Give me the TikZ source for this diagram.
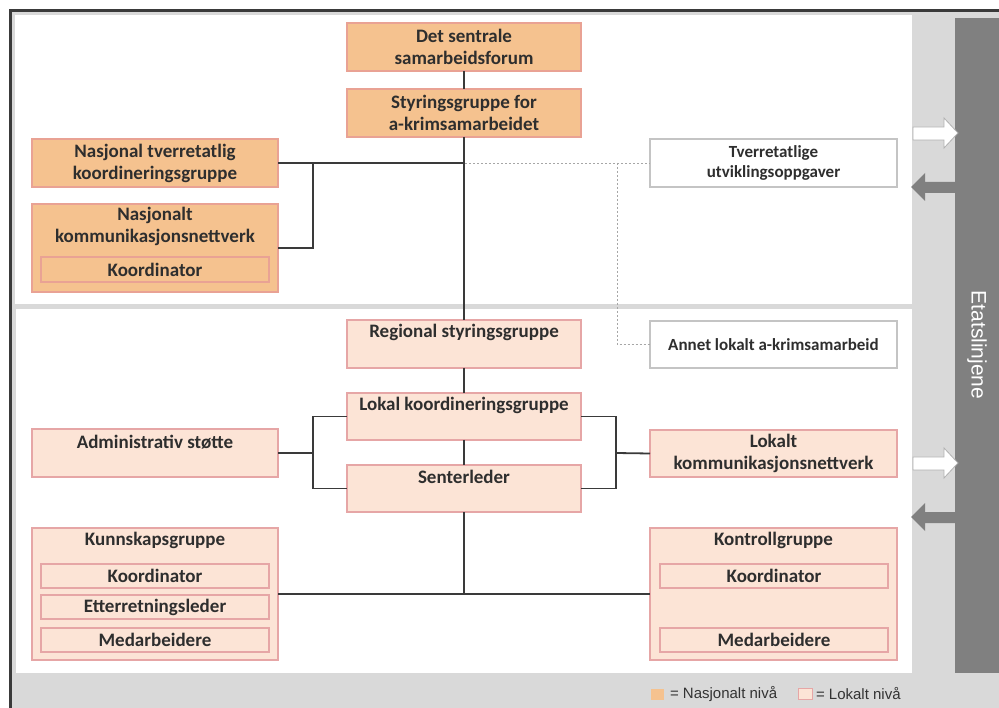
\documentclass[tikz,border=0pt]{standalone}
\usepackage{fontspec}
\setmainfont{Carlito}
\newfontfamily\arialf{Liberation Sans}
\usetikzlibrary{calc}
\definecolor{natfill}{HTML}{F5C28F}
\definecolor{natdraw}{HTML}{E9A294}
\definecolor{locfill}{HTML}{FCE4D6}
\definecolor{locdraw}{HTML}{E6A6A6}
\definecolor{wdraw}{HTML}{C4C4C4}
\definecolor{bggray}{HTML}{D9D9D9}
\definecolor{bargray}{HTML}{808080}
\definecolor{txt}{HTML}{2E2E2E}
\definecolor{framec}{HTML}{3A3A3A}
\begin{document}
\begin{tikzpicture}[x=1pt,y=-1pt,
  every node/.style={inner sep=0pt, outer sep=0pt, text=txt, font=\bfseries\fontsize{19}{22}\selectfont},
  natbox/.style={draw=natdraw, fill=natfill, line width=1.3pt, rectangle},
  locbox/.style={draw=locdraw, fill=locfill, line width=1.3pt, rectangle},
  wbox/.style={draw=wdraw, fill=white, line width=1.3pt, rectangle, font=\bfseries\fontsize{17}{20}\selectfont},
  lbl/.style={align=center},
  conn/.style={draw=framec, line width=1.8pt},
  dotl/.style={draw=gray!70, line width=0.9pt, dash pattern=on 2pt off 2pt},
  larrow/.style={draw=gray!60, fill=white, line width=0.8pt},
  darrow/.style={fill=bargray}
]
\useasboundingbox (0,0) rectangle (999,708);
\fill[white] (0,0) rectangle (999,708);
\begin{scope}
\clip (0,0) rectangle (999,708);
% frame and background
\draw[draw=framec, line width=3pt, fill=bggray] (10.5,10.5) rectangle (1010,720);
\fill[white] (15,15) rectangle (912,304);
\fill[white] (16,309) rectangle (912,673);
% Etatslinjene bar
\fill[bargray] (955,18) rectangle (1005,673);
\node[rotate=-90, text=white, font=\arialf\fontsize{21}{24}\selectfont] (etat) at (977,345) {Etatslinjene};
% arrows to the bar
\draw[larrow] (913,127) -- (944,127) -- (944,118) -- (958,133) -- (944,148) -- (944,140) -- (913,140) -- cycle;
\fill[darrow] (955,182) -- (925,182) -- (925,173) -- (911,187) -- (925,201) -- (925,193) -- (955,193) -- cycle;
\begin{scope}[shift={(0,330)}]
\draw[larrow] (913,127) -- (944,127) -- (944,118) -- (958,133) -- (944,148) -- (944,140) -- (913,140) -- cycle;
\fill[darrow] (955,182) -- (925,182) -- (925,173) -- (911,187) -- (925,201) -- (925,193) -- (955,193) -- cycle;
\end{scope}
\end{scope}

% national boxes
\node[natbox, lbl, minimum width=234pt, minimum height=48pt] (sentral) at (464,47) {Det sentrale\\samarbeidsforum};
\node[natbox, lbl, minimum width=234pt, minimum height=48pt] (styr) at (464,113) {Styringsgruppe for\\a-krimsamarbeidet};
\node[natbox, lbl, minimum width=246pt, minimum height=48pt] (ntk) at (155,163) {Nasjonal tverretatlig\\koordineringsgruppe};
\node[natbox, minimum width=246pt, minimum height=88pt] (nkn) at (155,248) {};
\node[lbl] (nknt) at (155,226.5) {Nasjonalt\\kommunikasjonsnettverk};
\node[natbox, minimum width=228pt, minimum height=25pt] (nknk) at (155,269.5) {Koordinator};

% white boxes
\node[wbox, lbl, minimum width=247pt, minimum height=48pt] (tverr) at (773.5,163) {Tverretatlige\\utviklingsoppgaver};
\node[wbox, minimum width=247pt, minimum height=47pt] (annet) at (773.5,344.5) {Annet lokalt a-krimsamarbeid};

% local boxes
\node[locbox, minimum width=234pt, minimum height=48pt] (regional) at (464,344) {};
\node (regionalt) at (464,332) {Regional styringsgruppe};
\node[locbox, minimum width=234pt, minimum height=47pt] (lokal) at (464,416.5) {};
\node (lokalt) at (464,405) {Lokal koordineringsgruppe};
\node[locbox, minimum width=234pt, minimum height=47pt] (senter) at (464,488.5) {};
\node (sentert) at (464,477) {Senterleder};
\node[locbox, minimum width=246pt, minimum height=48pt] (admin) at (155,453) {};
\node (admint) at (155,442) {Administrativ støtte};
\node[locbox, lbl, minimum width=247pt, minimum height=47pt] (lkn) at (773.5,453.5) {Lokalt\\kommunikasjonsnettverk};

\node[locbox, minimum width=246pt, minimum height=132pt] (kunn) at (155,594) {};
\node (kunnt) at (155,540) {Kunnskapsgruppe};
\node[locbox, minimum width=228pt, minimum height=24pt] (kk1) at (155,576) {Koordinator};
\node[locbox, minimum width=228pt, minimum height=24pt] (kk2) at (155,607) {Etterretningsleder};
\node[locbox, minimum width=228pt, minimum height=24pt] (kk3) at (155,640) {Medarbeidere};

\node[locbox, minimum width=247pt, minimum height=132pt] (kontroll) at (773.5,594) {};
\node (kontrollt) at (773.5,540) {Kontrollgruppe};
\node[locbox, minimum width=228pt, minimum height=24pt] (kg1) at (774,576) {Koordinator};
\node[locbox, minimum width=228pt, minimum height=24pt] (kg2) at (774,640) {Medarbeidere};

% connectors
\draw[conn] (sentral.south) -- (styr.north);
\draw[conn] (styr.south) -- (regional.north);
\draw[conn] (ntk.east) -- (styr.south |- ntk.east);
\coordinate (nb) at (313,163);
\draw[conn] (nb) |- (nkn.east);
\draw[conn] (regional.south) -- (lokal.north);
\draw[conn] (lokal.south) -- (senter.north);
\coordinate (lb) at (313,453);
\draw[conn] (admin.east) -- (lb);
\draw[conn] (lokal.west) -| (lb) |- (senter.west);
\coordinate (rb) at (616,453);
\draw[conn] (lokal.east) -| (rb) |- (senter.east);
\draw[conn] (rb) -- (lkn.west);
\draw[conn] (senter.south) -- (senter.south |- kunn.east);
\draw[conn] (kunn.east) -- (kontroll.west);
% dotted links
\coordinate (d0) at (465,163);
\coordinate (d1) at (617,163);
\draw[dotl] (d0) -- (tverr.west);
\draw[dotl] (d1) |- (annet.west);

% legend
\node[fill=natfill, minimum width=13pt, minimum height=11pt] (legn) at (657,694) {};
\node[anchor=west, text=black!80, font=\arialf\fontsize{15}{18}\selectfont] (legnt) at (670,694) {= Nasjonalt nivå};
\node[draw=locdraw, fill=locfill, line width=1pt, minimum width=14pt, minimum height=11pt] (legl) at (805,694) {};
\node[anchor=west, text=black!80, font=\arialf\fontsize{15}{18}\selectfont] (leglt) at (816,694) {= Lokalt nivå};
\end{tikzpicture}
\end{document}
